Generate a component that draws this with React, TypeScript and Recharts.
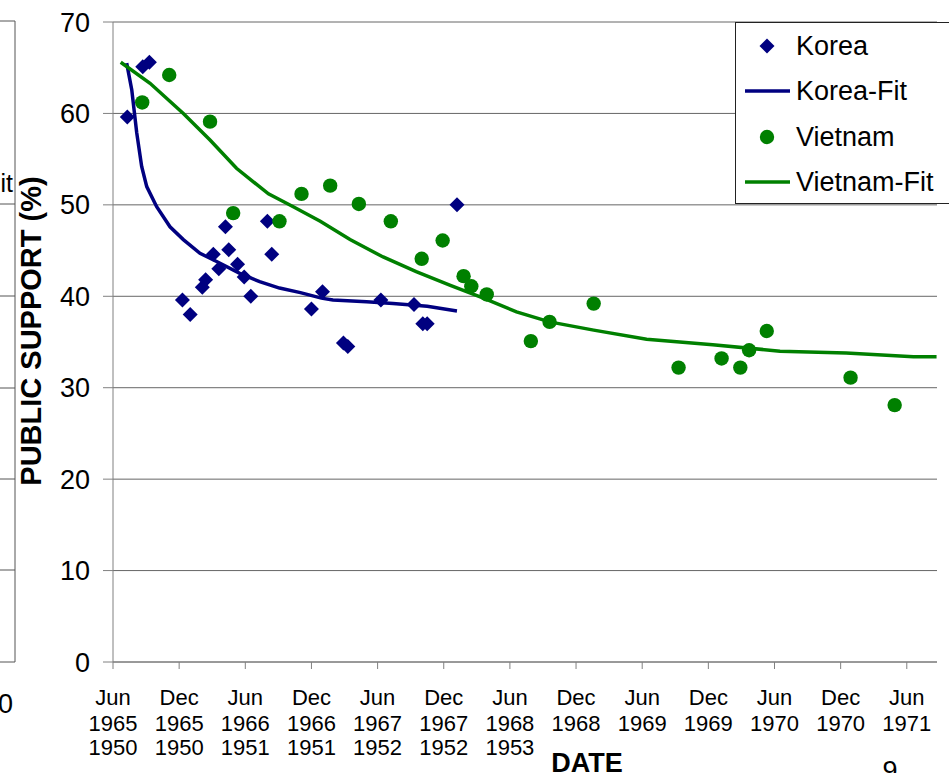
import React from 'react';
import { ComposedChart, Scatter, Line, XAxis, YAxis, CartesianGrid } from 'recharts';

const FONT = '"Liberation Sans", Arial, Helvetica, sans-serif';
const NAVY = '#000080';
const GREEN = '#008000';

// x = months after June 1965 (Vietnam) / June 1950 (Korea)
const koreaMonths = [1.3, 2.7, 3.3, 6.3, 7.0, 8.1, 8.4, 9.1, 9.6, 10.2, 10.5, 11.3, 11.9, 12.5, 14.0, 14.4, 18.0, 19.0, 20.9, 21.3, 24.3, 27.3, 28.1, 28.5, 31.2];
const koreaSupport = [59.6, 65.1, 65.6, 39.6, 38.0, 41.0, 41.8, 44.6, 43.0, 47.6, 45.1, 43.5, 42.1, 40.0, 48.2, 44.6, 38.6, 40.5, 34.9, 34.5, 39.6, 39.1, 37.0, 37.0, 50.0];

const koreaFitMonths = [1.24, 1.7, 2.15, 2.6, 3.06, 3.96, 5.17, 6.38, 7.89, 9.4, 11.5, 13.3, 15.1, 17.0, 18.9, 19.95, 23.0, 25.4, 28.5, 31.2];
const koreaFitSupport = [65.5, 62.6, 57.9, 54.2, 52.0, 49.8, 47.6, 46.2, 44.7, 43.8, 42.5, 41.6, 40.9, 40.4, 39.8, 39.6, 39.4, 39.2, 38.9, 38.4];

const vietnamMonths = [2.65, 5.1, 8.8, 10.9, 15.1, 17.1, 19.7, 22.3, 25.2, 28.0, 29.9, 31.8, 32.5, 33.9, 37.9, 39.6, 43.6, 51.3, 55.2, 56.9, 57.7, 59.3, 66.9, 70.9];
const vietnamSupport = [61.2, 64.2, 59.1, 49.1, 48.2, 51.2, 52.1, 50.1, 48.2, 44.1, 46.1, 42.2, 41.1, 40.2, 35.1, 37.2, 39.2, 32.2, 33.2, 32.2, 34.1, 36.2, 31.1, 28.1];

const vietnamFitMonths = [0.7, 3.36, 6.38, 8.8, 11.2, 14.1, 16.35, 18.8, 21.5, 24.5, 27.5, 30.6, 33.6, 36.6, 39.6, 43.6, 48.4, 54.4, 60.5, 66.5, 72.6, 74.7];
const vietnamFitSupport = [65.6, 63.3, 60.0, 57.1, 54.0, 51.2, 49.8, 48.2, 46.2, 44.3, 42.7, 41.2, 39.8, 38.3, 37.2, 36.3, 35.3, 34.7, 34.0, 33.8, 33.4, 33.4];

const xTicks = [0, 6, 12, 18, 24, 30, 36, 42, 48, 54, 60, 66, 72];
const tickMonthNames = ['Jun', 'Dec', 'Jun', 'Dec', 'Jun', 'Dec', 'Jun', 'Dec', 'Jun', 'Dec', 'Jun', 'Dec', 'Jun'];
const vietnamTickYears = ['1965', '1965', '1966', '1966', '1967', '1967', '1968', '1968', '1969', '1969', '1970', '1970', '1971'];
const koreaTickYears = ['1950', '1950', '1951', '1951', '1952', '1952', '1953'];
const yTicks = [0, 10, 20, 30, 40, 50, 60, 70];

const legendItems = [
  { name: 'Korea', color: NAVY, kind: 'diamond' },
  { name: 'Korea-Fit', color: NAVY, kind: 'line' },
  { name: 'Vietnam', color: GREEN, kind: 'circle' },
  { name: 'Vietnam-Fit', color: GREEN, kind: 'line' },
];

const zip = (xs: number[], ys: number[]) => xs.map((m, i) => ({ m, v: ys[i] }));
const koreaData = zip(koreaMonths, koreaSupport);
const koreaFitData = zip(koreaFitMonths, koreaFitSupport);
const vietnamData = zip(vietnamMonths, vietnamSupport);
const vietnamFitData = zip(vietnamFitMonths, vietnamFitSupport);

const DiamondShape = (props: any) => {
  const { cx, cy } = props;
  const r = 7.5;
  return <polygon points={`${cx},${cy - r} ${cx + r},${cy} ${cx},${cy + r} ${cx - r},${cy}`} fill={NAVY} />;
};

const CircleShape = (props: any) => {
  const { cx, cy } = props;
  return <circle cx={cx} cy={cy} r={7.2} fill={GREEN} />;
};

const XTick = (props: any) => {
  const { x, y, payload } = props;
  const i = xTicks.indexOf(payload.value);
  return (
    <text textAnchor="middle" fontSize={22} fontFamily={FONT} fill="#000">
      <tspan x={x} y={y + 34}>{tickMonthNames[i]}</tspan>
      <tspan x={x} y={y + 60}>{vietnamTickYears[i]}</tspan>
      {koreaTickYears[i] ? <tspan x={x} y={y + 84}>{koreaTickYears[i]}</tspan> : null}
    </text>
  );
};

const YLabel = (props: any) => {
  const { viewBox } = props;
  const cx = viewBox.x + 31;
  const cy = viewBox.y + viewBox.height / 2 - 11;
  return (
    <text x={cx} y={cy} transform={`rotate(-90, ${cx}, ${cy})`} textAnchor="middle" dominantBaseline="central" fontSize={29} fontWeight="bold" fontFamily={FONT} fill="#000">
      PUBLIC SUPPORT (%)
    </text>
  );
};

export default function App() {
  return (
    <div style={{ position: 'absolute', left: 0, top: 0, width: 949, height: 773, overflow: 'hidden', background: '#fff', fontFamily: FONT }}>
      <ComposedChart width={949} height={773} margin={{ top: 22, right: 12, bottom: 0, left: 0 }}>
        <CartesianGrid horizontal vertical={false} stroke="#666" strokeWidth={1} />
        <XAxis
          type="number"
          dataKey="m"
          domain={[0, 74.74]}
          ticks={xTicks}
          interval={0}
          height={111}
          tickSize={7}
          tickMargin={2}
          stroke="#808080"
          tick={<XTick />}
          allowDataOverflow
        />
        <YAxis
          type="number"
          dataKey="v"
          domain={[0, 70]}
          ticks={yTicks}
          interval={0}
          width={113}
          tickSize={10}
          tickMargin={13}
          stroke="#808080"
          tick={{ fontSize: 27, fill: '#000', fontFamily: FONT }}
          label={<YLabel />}
        />
        <Scatter name="Korea" data={koreaData} dataKey="v" shape={<DiamondShape />} isAnimationActive={false} />
        <Line name="Korea-Fit" data={koreaFitData} dataKey="v" type="linear" stroke={NAVY} strokeWidth={3.5} dot={false} activeDot={false} isAnimationActive={false} />
        <Scatter name="Vietnam" data={vietnamData} dataKey="v" shape={<CircleShape />} isAnimationActive={false} />
        <Line name="Vietnam-Fit" data={vietnamFitData} dataKey="v" type="linear" stroke={GREEN} strokeWidth={3.5} dot={false} activeDot={false} isAnimationActive={false} />
      </ComposedChart>

      {/* legend */}
      <div style={{ position: 'absolute', left: 735, top: 22, width: 260, height: 182, border: '1px solid #222', borderRight: 'none', background: '#fff', boxSizing: 'border-box' }}>
        {legendItems.map((it, i) => (
          <div key={it.name} style={{ position: 'absolute', left: 0, top: 23 + i * 45.3 - 16, height: 32, display: 'flex', alignItems: 'center' }}>
            <svg width={60} height={32} style={{ display: 'block' }}>
              {it.kind === 'diamond' && <polygon points="31,8.5 38.5,16 31,23.5 23.5,16" fill={it.color} />}
              {it.kind === 'circle' && <circle cx={31} cy={16} r={7.2} fill={it.color} />}
              {it.kind === 'line' && <line x1={9} x2={54} y1={16} y2={16} stroke={it.color} strokeWidth={3.5} />}
            </svg>
            <span style={{ fontSize: 27, color: '#000', lineHeight: '32px', whiteSpace: 'nowrap' }}>{it.name}</span>
          </div>
        ))}
      </div>

      {/* axis title and page fragments */}
      <svg width={949} height={773} style={{ position: 'absolute', left: 0, top: 0, pointerEvents: 'none' }}>
        <text x={587} y={772} textAnchor="middle" fontSize={27} fontWeight="bold" fontFamily={FONT} fill="#000">DATE</text>
        <text x={890} y={780} textAnchor="middle" fontSize={27} fontFamily={FONT} fill="#000">9</text>
        <line x1={15} x2={15} y1={21} y2={662} stroke="#555" strokeWidth={1} />
        {[21, 204, 296, 388, 479, 570, 662].map((yy) => (
          <line key={yy} x1={0} x2={15} y1={yy} y2={yy} stroke="#555" strokeWidth={1} />
        ))}
        <text x={13} y={192} textAnchor="end" fontSize={25} fontFamily={FONT} fill="#000">it</text>
        <text x={13} y={713} textAnchor="end" fontSize={27} fontFamily={FONT} fill="#000">0</text>
      </svg>
    </div>
  );
}
